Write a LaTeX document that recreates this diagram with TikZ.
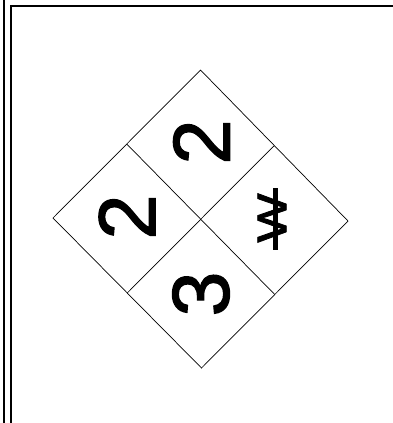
\documentclass[tikz,border=0pt]{standalone}
\usepackage{fontspec}
\setmainfont{Liberation Sans}
\newfontfamily\heavysans[FakeBold=1.6]{Liberation Sans}
\usetikzlibrary{calc}
\tikzset{
  frameline/.style={line width=1.1bp, black},
  diamondline/.style={line width=0.7bp, black},
  digit/.style={inner sep=0pt, rotate=90, font=\heavysans\fontsize{81}{81}\selectfont},
  wsym/.style={inner sep=0pt, rotate=90, font=\heavysans\fontsize{42}{42}\selectfont},
}
\begin{document}
\begin{tikzpicture}[x=1bp,y=-1bp]
\useasboundingbox (0,0) rectangle (393,423);
% frame
\coordinate (fa) at (4,0);
\coordinate (fb) at (4,423);
\coordinate (fc) at (11,6);
\coordinate (fd) at (11,423);
\coordinate (fe) at (393,6);
\draw[frameline] (fa) -- (fb);
\draw[frameline] (fd) -- (fc) -- (fe);
% diamond
\coordinate (T) at (200.5,70);
\coordinate (R) at (348,221);
\coordinate (B) at (201.5,368);
\coordinate (L) at (53,218);
\coordinate (TL) at ($(T)!0.5!(L)$);
\coordinate (TR) at ($(T)!0.5!(R)$);
\coordinate (BL) at ($(B)!0.5!(L)$);
\coordinate (BR) at ($(B)!0.5!(R)$);
\draw[diamondline] (T) -- (R) -- (B) -- (L) -- cycle;
\draw[diamondline] (TL) -- (BR);
\draw[diamondline] (TR) -- (BL);
% labels
\node[digit] (health) at (201.5,142) {2};
\node[digit] (flam) at (127,217) {2};
\node[digit] (react) at (201,294) {3};
\node[wsym] (water) at (272,218) {\scalebox{1.25}[1]{W}};
\coordinate (sa) at (275.5,188);
\coordinate (sb) at (275.5,250);
\draw[line width=4.5bp] (sa) -- (sb);
\end{tikzpicture}
\end{document}
